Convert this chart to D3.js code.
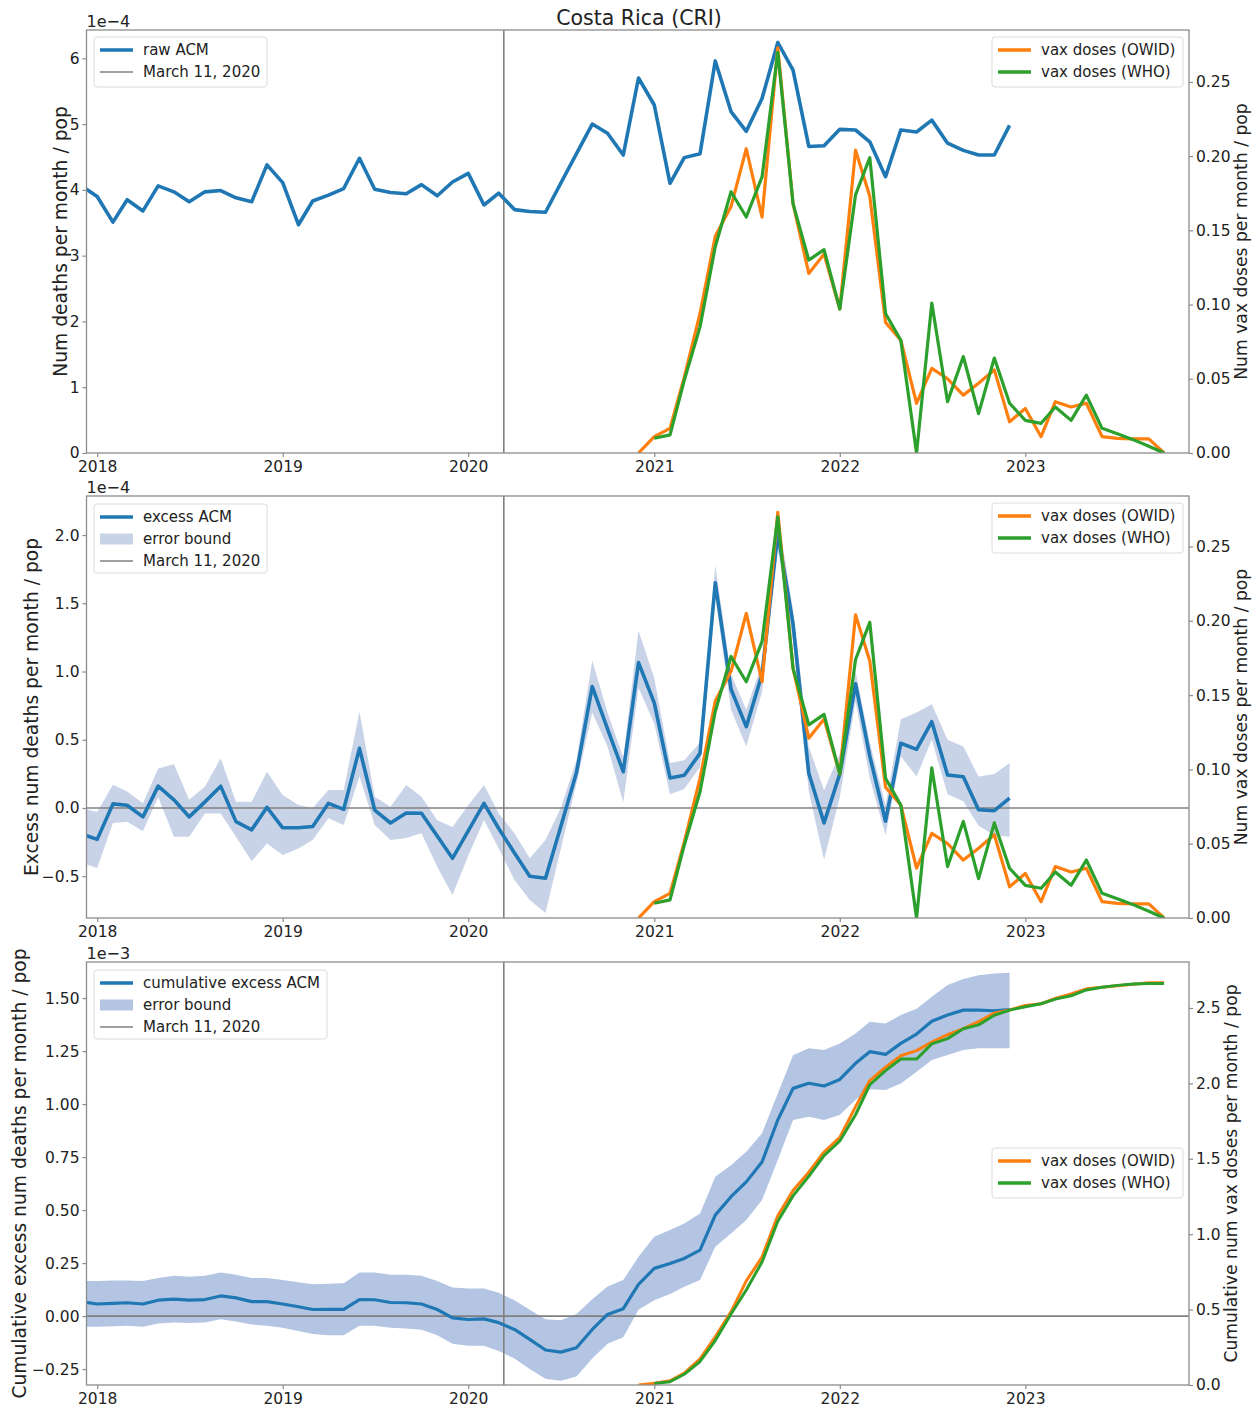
<!DOCTYPE html>
<html><head><meta charset="utf-8">
<script src="https://cdn.jsdelivr.net/npm/d3@7"></script>
<style>
body{margin:0;background:#fff;}
svg{display:block;font-family:"DejaVu Sans",sans-serif;}
</style>
</head><body>
<svg id="chart" width="1258" height="1408"></svg>
<script>
// ---------------- DATA ----------------
const acmStart = [2017, 11];       // Dec 2017 (monthly points, first of month)
const owidStart = [2020, 11];      // Dec 2020
const whoStart = [2021, 0];        // Jan 2021
const yearTicks = [2018, 2019, 2020, 2021, 2022, 2023];
const marchDate = [2020, 2, 11];

// raw ACM, 1e-4 per month / pop (Dec 2017 .. Dec 2022)
const rawAcm = [4.06,
  3.90, 3.51, 3.85, 3.68, 4.06, 3.97, 3.82, 3.97, 3.99, 3.88, 3.82, 4.38,
  4.11, 3.47, 3.83, 3.92, 4.02, 4.48, 4.01, 3.96, 3.94, 4.08, 3.91, 4.12,
  4.25, 3.77, 3.95, 3.70, 3.67, 3.66, 4.10, 4.55, 5.00, 4.86, 4.53, 5.70,
  5.29, 4.10, 4.49, 4.55, 5.96, 5.19, 4.89, 5.39, 6.24, 5.82, 4.66, 4.67,
  4.92, 4.91, 4.73, 4.20, 4.91, 4.88, 5.06, 4.71, 4.60, 4.53, 4.53, 4.98];

// excess ACM, 1e-4 (Dec 2017 .. Dec 2022)
const excessAcm = [-0.19,
  -0.23, 0.03, 0.02, -0.065, 0.16, 0.06, -0.065, 0.045, 0.16, -0.10, -0.16, 0.005,
  -0.145, -0.145, -0.135, 0.034, -0.01, 0.437, -0.015, -0.11, -0.037, -0.039, -0.205, -0.369,
  -0.167, 0.034, -0.15, -0.33, -0.50, -0.515, -0.137, 0.26, 0.89, 0.58, 0.266, 1.065,
  0.77, 0.22, 0.24, 0.40, 1.65, 0.87, 0.596, 0.98, 2.01, 1.35, 0.254, -0.11,
  0.25, 0.91, 0.38, -0.097, 0.474, 0.43, 0.632, 0.242, 0.229, -0.013, -0.02, 0.072];
const excessUpper = [0.0,
  -0.03, 0.17, 0.12, 0.034, 0.29, 0.32, 0.06, 0.157, 0.364, 0.046, 0.046, 0.266,
  0.095, 0.022, 0.0, 0.132, 0.132, 0.705, 0.083, 0.01, 0.168, 0.083, -0.09, -0.14,
  0.02, 0.168, -0.04, -0.185, -0.369, -0.234, 0.0, 0.35, 1.08, 0.70, 0.37, 1.30,
  0.95, 0.33, 0.35, 0.48, 1.78, 0.98, 0.72, 1.06, 2.15, 1.45, 0.45, 0.13,
  0.40, 1.0, 0.48, 0.02, 0.65, 0.70, 0.76, 0.50, 0.45, 0.23, 0.25, 0.33];
const excessLower = [-0.40,
  -0.44, -0.11, -0.10, -0.17, 0.08, -0.21, -0.21, -0.04, -0.04, -0.21, -0.39, -0.26,
  -0.345, -0.296, -0.234, -0.075, -0.124, 0.23, -0.124, -0.234, -0.22, -0.185, -0.43, -0.637,
  -0.35, -0.088, -0.296, -0.527, -0.674, -0.77, -0.30, 0.18, 0.70, 0.45, 0.04, 0.88,
  0.62, 0.10, 0.14, 0.30, 1.55, 0.72, 0.45, 0.85, 1.90, 1.22, 0.12, -0.38,
  0.08, 0.78, 0.22, -0.20, 0.38, 0.23, 0.50, 0.10, 0.05, -0.13, -0.20, -0.21];

// cumulative excess ACM, 1e-3 (Dec 2017 .. Dec 2022)
const cumExcess = [0.068,
  0.057, 0.060, 0.063, 0.057, 0.075, 0.080, 0.075, 0.078, 0.095, 0.086, 0.068, 0.068,
  0.057, 0.044, 0.031, 0.032, 0.032, 0.078, 0.077, 0.064, 0.063, 0.057, 0.031, -0.008,
  -0.016, -0.013, -0.031, -0.063, -0.110, -0.160, -0.170, -0.149, -0.063, 0.008, 0.035, 0.15,
  0.225, 0.248, 0.272, 0.311, 0.476, 0.563, 0.633, 0.727, 0.925, 1.074, 1.098, 1.085,
  1.116, 1.192, 1.247, 1.234, 1.286, 1.33, 1.391, 1.42, 1.443, 1.443, 1.44, 1.446];
const cumUpper = [0.165,
  0.165, 0.168, 0.168, 0.165, 0.18, 0.19, 0.185, 0.19, 0.205, 0.195, 0.18, 0.18,
  0.17, 0.16, 0.15, 0.152, 0.155, 0.205, 0.205, 0.195, 0.195, 0.19, 0.165, 0.135,
  0.13, 0.13, 0.11, 0.075, 0.03, -0.015, -0.02, 0.01, 0.08, 0.14, 0.17, 0.28,
  0.374, 0.406, 0.437, 0.484, 0.657, 0.712, 0.775, 0.862, 1.05, 1.23, 1.263, 1.255,
  1.286, 1.333, 1.388, 1.38, 1.42, 1.45, 1.506, 1.561, 1.59, 1.608, 1.616, 1.619];
const cumLower = [-0.05,
  -0.05, -0.048, -0.045, -0.05, -0.035, -0.03, -0.033, -0.03, -0.015, -0.025, -0.04, -0.045,
  -0.055, -0.07, -0.085, -0.09, -0.09, -0.045, -0.045, -0.055, -0.058, -0.065, -0.09, -0.13,
  -0.14, -0.14, -0.165, -0.20, -0.25, -0.295, -0.305, -0.285, -0.20, -0.13, -0.10, 0.03,
  0.075, 0.104, 0.138, 0.17, 0.327, 0.39, 0.453, 0.547, 0.736, 0.925, 0.94, 0.925,
  0.948, 1.02, 1.07, 1.066, 1.097, 1.152, 1.208, 1.231, 1.255, 1.263, 1.263, 1.263];

// vax doses per month / pop
const vaxOwid = [0,
  0.011, 0.0166, 0.051, 0.094, 0.146, 0.166, 0.205, 0.159, 0.273, 0.168, 0.121, 0.134,
  0.097, 0.204, 0.173, 0.088, 0.076, 0.0335, 0.057, 0.050, 0.039, 0.047, 0.056, 0.021,
  0.030, 0.011, 0.0346, 0.031, 0.0335, 0.011, 0.0099, 0.0095, 0.0095, 0.0];
const vaxWho = [
  0.0099, 0.0122, 0.049, 0.085, 0.139, 0.176, 0.159, 0.186, 0.270, 0.168, 0.130, 0.137,
  0.097, 0.174, 0.199, 0.094, 0.076, 0.0, 0.101, 0.0346, 0.065, 0.0265, 0.064, 0.0335,
  0.022, 0.020, 0.031, 0.022, 0.039, 0.0166, 0.013, 0.009, 0.0045, 0.0];
// cumulative vax doses / pop
const cumVaxOwid = [0,
  0.011, 0.028, 0.079, 0.173, 0.319, 0.485, 0.69, 0.849, 1.122, 1.29, 1.411, 1.545,
  1.642, 1.846, 2.019, 2.107, 2.183, 2.217, 2.274, 2.324, 2.363, 2.41, 2.466, 2.487,
  2.517, 2.528, 2.563, 2.594, 2.627, 2.638, 2.648, 2.658, 2.667, 2.667];
const cumVaxWho = [
  0.01, 0.022, 0.071, 0.156, 0.295, 0.471, 0.63, 0.816, 1.086, 1.254, 1.384, 1.521,
  1.618, 1.792, 1.991, 2.085, 2.161, 2.161, 2.262, 2.297, 2.362, 2.388, 2.452, 2.486,
  2.508, 2.528, 2.559, 2.581, 2.62, 2.637, 2.65, 2.659, 2.663, 2.663];

// ---------------- LAYOUT / STYLE ----------------
const C = {blue: "#1f77b4", orange: "#ff7f0e", green: "#2ca02c", grey: "#808080"};
const svg = d3.select("#chart");
const xLeft = 86.5, xRight = 1189;
const x = d3.scaleTime()
  .domain([new Date(2017, 11, 11), new Date(2023, 10, 19)])
  .range([xLeft, xRight]);

const monthsFrom = (s, n) => d3.range(n).map(i => new Date(s[0], s[1] + i, 1));
const series = (s, vals) => monthsFrom(s, vals.length).map((d, i) => ({d, v: vals[i]}));

svg.append("text").attr("x", 639).attr("y", 25).attr("text-anchor", "middle")
  .attr("font-size", 20.5).attr("fill", "#222").text("Costa Rica (CRI)");

let clipId = 0;
function panel(cfg) {
  const g = svg.append("g");
  const yL = d3.scaleLinear().domain(cfg.yLdom).range([cfg.bottom, cfg.top]);
  const yR = d3.scaleLinear().domain(cfg.yRdom).range([cfg.bottom, cfg.top]);
  const cid = "clip" + (clipId++);
  svg.append("clipPath").attr("id", cid).append("rect")
    .attr("x", xLeft).attr("y", cfg.top).attr("width", xRight - xLeft).attr("height", cfg.bottom - cfg.top);
  const plot = g.append("g").attr("clip-path", `url(#${cid})`);

  if (cfg.band) {
    const b = monthsFrom(acmStart, cfg.band.upper.length).map((d, i) => ({d, u: cfg.band.upper[i], l: cfg.band.lower[i]}));
    plot.append("path").datum(b)
      .attr("d", d3.area().x(p => x(p.d)).y0(p => yL(p.l)).y1(p => yL(p.u)))
      .attr("fill", cfg.band.color).attr("stroke", "none");
  }
  if (cfg.zeroLine) {
    plot.append("line").attr("x1", xLeft).attr("x2", xRight)
      .attr("y1", yL(0)).attr("y2", yL(0)).attr("stroke", C.grey).attr("stroke-width", 1.6);
  }
  const md = new Date(marchDate[0], marchDate[1], marchDate[2]);
  plot.append("line").attr("x1", x(md)).attr("x2", x(md))
    .attr("y1", cfg.top).attr("y2", cfg.bottom).attr("stroke", C.grey).attr("stroke-width", 1.6);

  const lineL = d3.line().x(p => x(p.d)).y(p => yL(p.v));
  const lineR = d3.line().x(p => x(p.d)).y(p => yR(p.v));
  plot.append("path").datum(series(acmStart, cfg.main))
    .attr("d", lineL).attr("fill", "none").attr("stroke", C.blue)
    .attr("stroke-width", cfg.mainWidth).attr("stroke-linejoin", "round");
  plot.append("path").datum(series(owidStart, cfg.owid))
    .attr("d", lineR).attr("fill", "none").attr("stroke", C.orange)
    .attr("stroke-width", cfg.vaxWidth).attr("stroke-linejoin", "round");
  plot.append("path").datum(series(whoStart, cfg.who))
    .attr("d", lineR).attr("fill", "none").attr("stroke", C.green)
    .attr("stroke-width", cfg.vaxWidth).attr("stroke-linejoin", "round");

  // frame
  g.append("rect").attr("x", xLeft).attr("y", cfg.top)
    .attr("width", xRight - xLeft).attr("height", cfg.bottom - cfg.top)
    .attr("fill", "none").attr("stroke", "#8c8c8c").attr("stroke-width", 1.3);

  const styleAxis = a => {
    a.select(".domain").remove();
    a.selectAll(".tick line").attr("stroke", "#8c8c8c").attr("stroke-width", 1.2);
    a.selectAll(".tick text").attr("fill", "#222").attr("font-size", 15.5)
      .attr("font-family", '"DejaVu Sans", sans-serif');
  };
  g.append("g").attr("transform", `translate(0,${cfg.bottom})`)
    .call(d3.axisBottom(x).tickValues(yearTicks.map(y => new Date(y, 0, 1)))
      .tickFormat(d3.timeFormat("%Y")).tickSize(4).tickPadding(4))
    .call(styleAxis);
  g.append("g").attr("transform", `translate(${xLeft},0)`)
    .call(d3.axisLeft(yL).tickValues(cfg.yLticks).tickFormat(d3.format(cfg.yLfmt)).tickSize(4).tickPadding(3))
    .call(styleAxis);
  g.append("g").attr("transform", `translate(${xRight},0)`)
    .call(d3.axisRight(yR).tickValues(cfg.yRticks).tickFormat(d3.format(cfg.yRfmt)).tickSize(4).tickPadding(3))
    .call(styleAxis);

  g.append("text").attr("x", xLeft).attr("y", cfg.top - 3)
    .attr("font-size", 16).attr("fill", "#222").text(cfg.offset);

  const midY = (cfg.top + cfg.bottom) / 2;
  g.append("text").attr("transform", `translate(${cfg.lLabelX},${midY}) rotate(-90)`)
    .attr("text-anchor", "middle").attr("dominant-baseline", "central")
    .attr("font-size", 18.7).attr("fill", "#222").text(cfg.lLabel);
  g.append("text").attr("transform", `translate(${cfg.rLabelX},${midY}) rotate(-90)`)
    .attr("text-anchor", "middle").attr("dominant-baseline", "central")
    .attr("font-size", 17.2).attr("fill", "#222").text(cfg.rLabel);

  legend(g, cfg.legL);
  legend(g, cfg.legR);
}

function legend(g, L) {
  const lg = g.append("g");
  lg.append("rect").attr("x", L.x).attr("y", L.y).attr("width", L.w).attr("height", L.h)
    .attr("rx", 3).attr("fill", "#fff").attr("fill-opacity", 0.85)
    .attr("stroke", "#dcdcdc").attr("stroke-width", 1);
  L.items.forEach((it, i) => {
    const cy = L.y + 13 + i * 22;
    if (it.type === "patch") {
      lg.append("rect").attr("x", L.x + 6).attr("y", cy - 5.5).attr("width", 33).attr("height", 11)
        .attr("fill", it.color);
    } else {
      lg.append("line").attr("x1", L.x + 6).attr("x2", L.x + 39).attr("y1", cy).attr("y2", cy)
        .attr("stroke", it.color).attr("stroke-width", it.w);
    }
    lg.append("text").attr("x", L.x + 49).attr("y", cy).attr("dominant-baseline", "central")
      .attr("font-size", 15).attr("fill", "#222").text(it.label);
  });
}

const vaxLegend = (y) => ({x: 992, y, w: 191, h: 50, items: [
  {type: "line", color: C.orange, w: 3.5, label: "vax doses (OWID)"},
  {type: "line", color: C.green, w: 3.5, label: "vax doses (WHO)"}]});

panel({
  top: 30, bottom: 453,
  yLdom: [0, 6.43], yRdom: [0, 0.285],
  yLticks: [0, 1, 2, 3, 4, 5, 6], yLfmt: "d",
  yRticks: [0, 0.05, 0.10, 0.15, 0.20, 0.25], yRfmt: ".2f",
  main: rawAcm, owid: vaxOwid, who: vaxWho, mainWidth: 3.6, vaxWidth: 3.2,
  offset: "1e\u22124",
  lLabel: "Num deaths per month / pop", lLabelX: 60,
  rLabel: "Num vax doses per month / pop", rLabelX: 1241,
  legL: {x: 94, y: 37, w: 173, h: 50, items: [
    {type: "line", color: C.blue, w: 3.6, label: "raw ACM"},
    {type: "line", color: C.grey, w: 1.5, label: "March 11, 2020"}]},
  legR: vaxLegend(37)
});

panel({
  top: 496, bottom: 918,
  yLdom: [-0.806, 2.286], yRdom: [0, 0.284],
  yLticks: [-0.5, 0, 0.5, 1.0, 1.5, 2.0], yLfmt: ".1f",
  yRticks: [0, 0.05, 0.10, 0.15, 0.20, 0.25], yRfmt: ".2f",
  main: excessAcm, owid: vaxOwid, who: vaxWho, mainWidth: 3.6, vaxWidth: 3.2,
  band: {upper: excessUpper, lower: excessLower, color: "#c9d3e8"},
  zeroLine: true,
  offset: "1e\u22124",
  lLabel: "Excess num deaths per month / pop", lLabelX: 31,
  rLabel: "Num vax doses per month / pop", rLabelX: 1241,
  legL: {x: 94, y: 504, w: 173, h: 69, items: [
    {type: "line", color: C.blue, w: 3.6, label: "excess ACM"},
    {type: "patch", color: "#c9d3e8", label: "error bound"},
    {type: "line", color: C.grey, w: 1.5, label: "March 11, 2020"}]},
  legR: vaxLegend(503)
});

panel({
  top: 962, bottom: 1385,
  yLdom: [-0.325, 1.67], yRdom: [0, 2.805],
  yLticks: [-0.25, 0, 0.25, 0.5, 0.75, 1.0, 1.25, 1.5], yLfmt: ".2f",
  yRticks: [0, 0.5, 1.0, 1.5, 2.0, 2.5], yRfmt: ".1f",
  main: cumExcess, owid: cumVaxOwid, who: cumVaxWho, mainWidth: 3.2, vaxWidth: 3.0,
  band: {upper: cumUpper, lower: cumLower, color: "#b3c5e3"},
  zeroLine: true,
  offset: "1e\u22123",
  lLabel: "Cumulative excess num deaths per month / pop", lLabelX: 19,
  rLabel: "Cumulative num vax doses per month / pop", rLabelX: 1231,
  legL: {x: 94, y: 970, w: 233, h: 69, items: [
    {type: "line", color: C.blue, w: 3.6, label: "cumulative excess ACM"},
    {type: "patch", color: "#b3c5e3", label: "error bound"},
    {type: "line", color: C.grey, w: 1.5, label: "March 11, 2020"}]},
  legR: vaxLegend(1148)
});
</script>
</body></html>
